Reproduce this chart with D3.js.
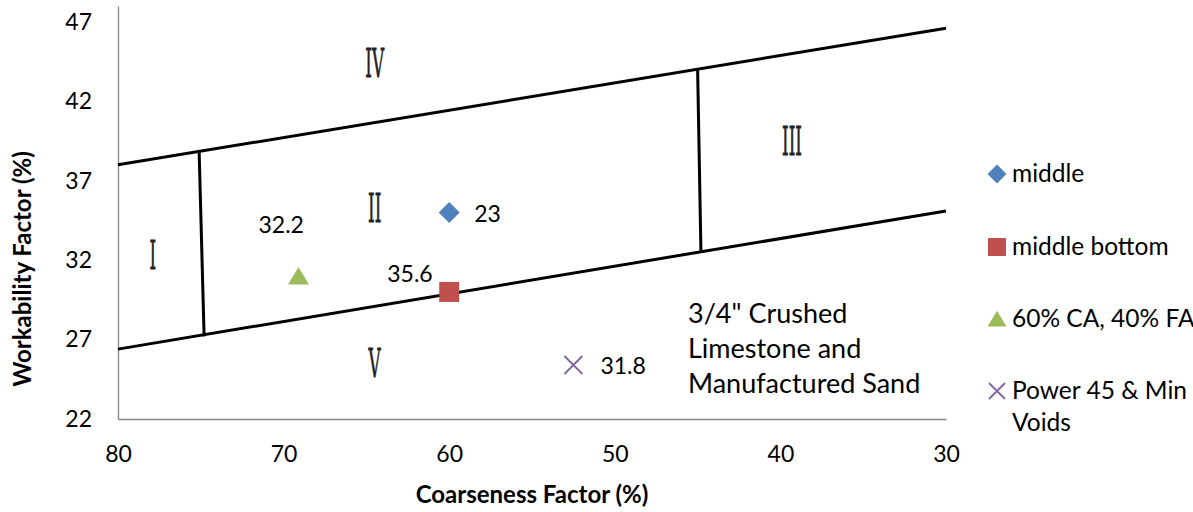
<!DOCTYPE html>
<html>
<head>
<meta charset="utf-8">
<script src="https://cdn.jsdelivr.net/npm/d3@7"></script>
<style>
  body { margin: 0; background: #fff; }
  svg { font-family: Lato, "Liberation Sans", sans-serif; }
</style>
</head>
<body>
<div id="chart"></div>
<script>
const WIDTH = 1193, HEIGHT = 512;
const margins = { top: 6, left: 118, right: 247, bottom: 93 };

// series (coarseness factor, workability factor, label)
const seriesNames = ["middle", "middle bottom", "60% CA, 40% FA", "Power 45 & Min Voids"];
const seriesColors = ["#4F81BD", "#C0504D", "#9BBB59", "#8064A2"];
const seriesShapes = ["diamond", "square", "triangle", "cross"];
const pointsCF = [60, 60, 69.1, 52.5];
const pointsWF = [35, 30, 31, 25.4];
const pointLabels = ["23", "35.6", "32.2", "31.8"];

// zone boundaries
const upperLine = [[80, 38.0], [30, 46.6]];
const lowerLine = [[80, 26.4], [30, 35.1]];
const leftBar = [[75.1, 38.8], [74.8, 27.2]];
const rightBar = [[45.0, 44.1], [44.8, 32.6]];

// zone labels
const zoneNames = ["I", "II", "III", "IV", "V"];
const zoneCF = [77.9, 64.5, 39.3, 64.5, 64.5];
const zoneWF = [32.3, 35.3, 39.5, 44.4, 25.5];

const xTicks = [80, 70, 60, 50, 40, 30];
const yTicks = [22, 27, 32, 37, 42, 47];
const noteLines = ['3/4" Crushed', "Limestone and", "Manufactured Sand"];

const svg = d3.select("#chart").append("svg").attr("width", WIDTH).attr("height", HEIGHT);

const x = d3.scaleLinear().domain([80, 30]).range([margins.left, WIDTH - margins.right]);
const y = d3.scaleLinear().domain([22, 48]).range([HEIGHT - margins.bottom, margins.top]);

// axes
const xAxis = svg.append("g")
  .attr("transform", `translate(0,${y(22)})`)
  .call(d3.axisBottom(x).tickValues(xTicks).tickSize(0).tickPadding(27));
const yAxis = svg.append("g")
  .attr("transform", `translate(${x(80)},0)`)
  .call(d3.axisLeft(y).tickValues(yTicks).tickSize(0).tickPadding(26));
[xAxis, yAxis].forEach(a => {
  a.select(".domain").attr("stroke", "#868686").attr("stroke-width", 1.3);
  a.selectAll("text").attr("font-size", 23).attr("fill", "#000").attr("font-family", "Lato, sans-serif");
});

svg.append("text")
  .attr("x", (x(80) + x(30)) / 2).attr("y", 503)
  .attr("text-anchor", "middle").attr("font-size", 24).attr("font-weight", "bold")
  .text("Coarseness Factor (%)");
svg.append("text")
  .attr("transform", `translate(31,269) rotate(-90)`)
  .attr("text-anchor", "middle").attr("font-size", 24).attr("font-weight", "bold")
  .text("Workability Factor (%)");

// boundary lines
const line = d3.line().x(d => x(d[0])).y(d => y(d[1]));
[upperLine, lowerLine, leftBar, rightBar].forEach(seg => {
  svg.append("path").attr("d", line(seg)).attr("stroke", "#000").attr("stroke-width", 3).attr("fill", "none");
});

// zone labels (roman numerals)
zoneNames.forEach((n, i) => {
  svg.append("text")
    .attr("transform", `translate(${x(zoneCF[i])},${y(zoneWF[i]) + 14}) scale(0.42,1)`)
    .attr("text-anchor", "middle").attr("font-family", "DejaVu Serif").attr("font-size", 40)
    .attr("fill", "#222").attr("stroke", "#222").attr("stroke-width", 0.8)
    .text(n);
});

// marker shapes, sized by width in px
function marker(g, shape, color, s) {
  const h = s / 2;
  if (shape === "cross") {
    g.append("path").attr("d", `M${-h},${-h}L${h},${h}M${-h},${h}L${h},${-h}`)
      .attr("stroke", color).attr("stroke-width", 1.8).attr("fill", "none");
    return;
  }
  let d;
  if (shape === "diamond") d = `M0,${-h}L${h},0L0,${h}L${-h},0Z`;
  else if (shape === "square") d = `M${-h},${-h}H${h}V${h}H${-h}Z`;
  else d = `M0,${-s * 0.43}L${h},${s * 0.4}H${-h}Z`;
  g.append("path").attr("d", d).attr("fill", color);
}

// points
const labelDx = [25, -62, -40, 27];
const labelDy = [9, -10, -43, 9];
const pointSize = [21, 20, 21, 18];
pointsCF.forEach((cf, i) => {
  const g = svg.append("g").attr("transform", `translate(${x(cf)},${y(pointsWF[i])})`);
  marker(g, seriesShapes[i], seriesColors[i], pointSize[i]);
  g.append("text").attr("x", labelDx[i]).attr("y", labelDy[i]).attr("font-size", 23).text(pointLabels[i]);
});

// note
const note = svg.append("text").attr("font-size", 27);
noteLines.forEach((t, i) => {
  note.append("tspan").attr("x", 688).attr("y", 323 + i * 35).text(t);
});

// legend
const legendY = [174, 247, 319, 391];
const legendSize = [19, 18, 19, 16];
seriesNames.forEach((n, i) => {
  const g = svg.append("g").attr("transform", `translate(997,${legendY[i]})`);
  marker(g, seriesShapes[i], seriesColors[i], legendSize[i]);
  const t = g.append("text").attr("x", 15).attr("y", 8).attr("font-size", 24.5);
  if (i === 3) {
    t.append("tspan").attr("x", 15).text("Power 45 & Min");
    t.append("tspan").attr("x", 15).attr("dy", 32).text("Voids");
  } else {
    t.text(n);
  }
});
</script>
</body>
</html>
